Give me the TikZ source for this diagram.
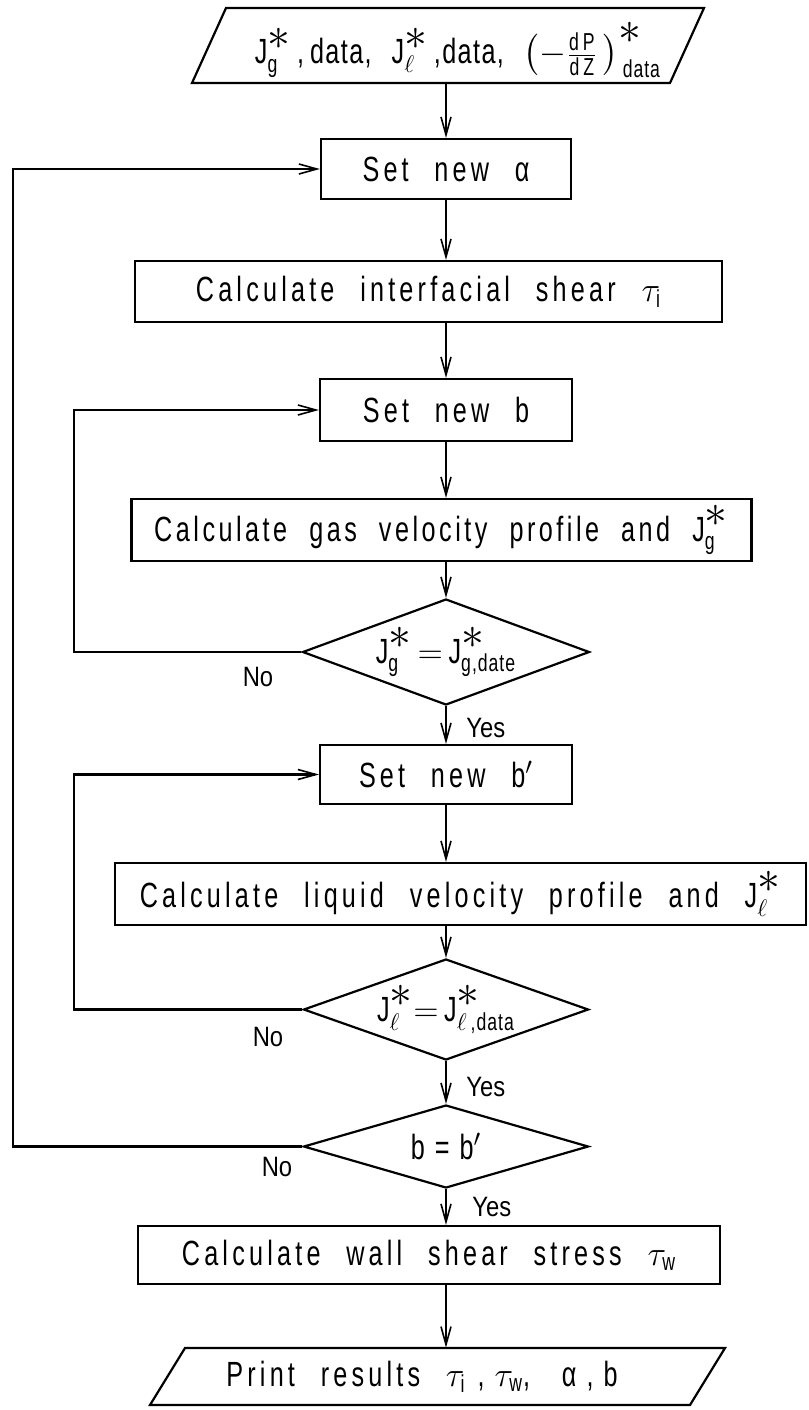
\documentclass[tikz,border=0pt]{standalone}
\usepackage{fontspec}
\usepackage{amsmath}
\usepackage{graphicx}
\setmainfont{Liberation Sans}[FakeStretch=0.72,LetterSpace=12,WordSpace=2.3]
\newfontfamily\lblfont{Liberation Sans}[FakeStretch=0.85]
\newfontfamily\tightfont{Liberation Sans}[FakeStretch=0.72,LetterSpace=4]
\newfontfamily\gasfont{Liberation Sans}[FakeStretch=0.72,LetterSpace=10,WordSpace=2.1]
\usetikzlibrary{shapes.geometric,arrows.meta}
\newcommand\st{{\scalebox{1.9}{$\scriptstyle\ast$}}}
\newcommand\J[1]{\text{J}^{\st}_{#1}}
\begin{document}
\begin{tikzpicture}[x=0.5pt,y=-0.5pt,
  every node/.style={font=\fontsize{17.5}{20}\selectfont},
  box/.style={draw,line width=1.1pt,inner sep=0pt,rectangle},
  iotext/.style={inner sep=0pt,rectangle},
  dia/.style={draw,line width=1.1pt,inner sep=0pt,diamond},
  arr/.style={line width=1.1pt,-{Straight Barb[length=9pt,width=5pt,line width=0.8pt]}},
  ln/.style={line width=1.1pt,line join=miter},
  dlab/.style={font=\tightfont\fontsize{17.5}{20}\selectfont},
  yn/.style={font=\lblfont\fontsize{14}{16}\selectfont,inner sep=0pt}]
\useasboundingbox (0,0) rectangle (809,1410);

% input parallelogram
\draw[ln] (192,83) -- (226,8) -- (704,8) -- (670,83) -- cycle;
\node[iotext,font=\tightfont\fontsize{17.5}{20}\selectfont] (in) at (458,50)
  {$\J{\text{g}}\text{\,,\,data,}\hspace{10pt}\J{\ell}\text{\,,data,}\hspace{10pt}\bigl(-\tfrac{\text{d\,P}}{\text{d\,Z}}\,\bigr)^{\st}_{\,\text{data}}$};

\node[box,minimum width=125pt,minimum height=30pt] (alpha) at (446,169) {Set new α};
\node[box,minimum width=293.5pt,minimum height=30.5pt] (inter) at (428.5,291.5) {Calculate interfacial shear $\tau_{\text{i}}$};
\node[box,minimum width=126pt,minimum height=31pt] (setb) at (446,410) {Set new b};
\node[box,minimum width=310pt,minimum height=31pt,font=\gasfont\fontsize{17.5}{20}\selectfont] (gas) at (441.5,530) {Calculate gas velocity profile and $\J{\text{g}}$};
\node[dia,minimum width=143.5pt,minimum height=53pt,
      label={[dlab]center:{$\J{\text{g}}\,{=}\,\J{\text{g,date}}$}}] (d1) at (446,652) {};
\node[box,minimum width=126pt,minimum height=29.5pt] (setbp) at (446,774.5) {Set new b$'$};
\node[box,minimum width=345.5pt,minimum height=31pt] (liq) at (460.5,894) {Calculate liquid velocity profile and $\J{\ell}$};
\node[dia,minimum width=142.5pt,minimum height=50.5pt,
      label={[dlab]center:{$\J{\ell}{=}\,\J{\ell\text{\,,data}}$}}] (d2) at (446,1009.5) {};
\node[dia,minimum width=142.5pt,minimum height=41.5pt,
      label={[dlab]center:{b\hspace{5pt}=\hspace{5pt}b$'$}}] (d3) at (446,1146.5) {};
\node[box,minimum width=291pt,minimum height=29pt] (wall) at (429,1255) {Calculate wall shear stress $\tau_{\text{w}}$};

% output parallelogram
\draw[ln] (150,1405) -- (185,1348) -- (725,1348) -- (690,1405) -- cycle;
\node[iotext,minimum height=28.5pt] (print) at (422,1376.5)
  {Print results $\tau_{\text{i}}$\hspace{6pt},\hspace{5pt}$\tau_{\text{w}}$,\hspace{16pt}α\hspace{5pt},\hspace{5pt}b};

% main flow
\draw[arr] (446,83) -- (alpha.north);
\draw[arr] (alpha.south) -- (alpha.south |- inter.north);
\draw[arr] (setb.north |- inter.south) -- (setb.north);
\draw[arr] (setb.south) -- (setb.south |- gas.north);
\draw[arr] (d1.north |- gas.south) -- (d1.north);
\draw[arr] (d1.south) -- (setbp.north);
\draw[arr] (setbp.south) -- (setbp.south |- liq.north);
\draw[arr] (d2.north |- liq.south) -- (d2.north);
\draw[arr] (d2.south) -- (d3.north);
\draw[arr] (d3.south) -- (d3.south |- wall.north);
\draw[arr] (d3.south |- wall.south) -- (d3.south |- print.north);

% loops
\coordinate (l1) at (74,652);
\coordinate (l2) at (74,1009.5);
\coordinate (l3) at (13,1146.5);
\draw[arr] (d1.west) -- (l1) |- (setb.west);
\draw[arr] (d2.west) -- (l2) |- (setbp.west);
\draw[arr] (d3.west) -- (l3) |- (alpha.west);

% labels
\node[yn] (no1) at (258,677) {No};
\node[yn] (no2) at (268,1037) {No};
\node[yn] (no3) at (277,1167) {No};
\node[yn,anchor=west] (yes1) at (466,728) {Yes};
\node[yn,anchor=west] (yes2) at (466,1087) {Yes};
\node[yn,anchor=west] (yes3) at (472,1207) {Yes};
\end{tikzpicture}
\end{document}
